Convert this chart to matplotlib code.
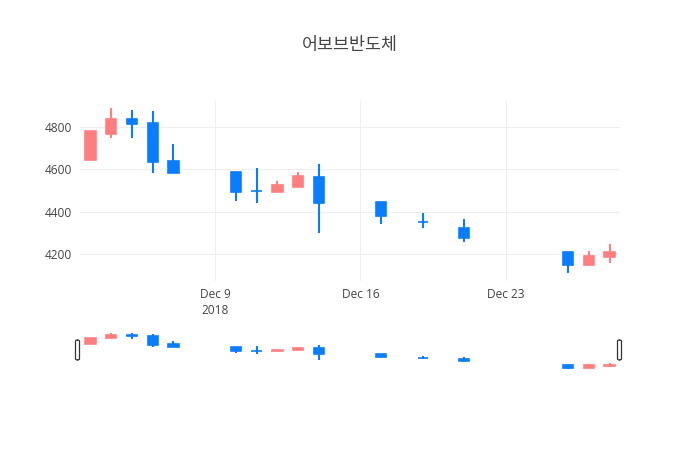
import matplotlib
matplotlib.use('Agg')
import matplotlib.pyplot as plt
import matplotlib.dates as mdates
from matplotlib.patches import FancyBboxPatch
import numpy as np
import pandas as pd

plt.rcParams['font.family'] = ['Open Sans', 'Noto Sans CJK KR', 'DejaVu Sans']

# 데이터
dates = ['2018-12-03', '2018-12-04', '2018-12-05', '2018-12-06', '2018-12-07',
         '2018-12-10', '2018-12-11', '2018-12-12', '2018-12-13', '2018-12-14',
         '2018-12-17', '2018-12-19', '2018-12-21', '2018-12-26', '2018-12-27',
         '2018-12-28']
opens = [4645, 4770, 4840, 4820, 4640, 4590, 4500, 4495, 4515, 4565,
         4445, 4353, 4320, 4210, 4145, 4185]
highs = [4780, 4890, 4880, 4875, 4720, 4590, 4605, 4545, 4590, 4625,
         4445, 4395, 4365, 4210, 4215, 4245]
lows = [4645, 4750, 4750, 4585, 4585, 4450, 4440, 4495, 4515, 4300,
        4340, 4320, 4255, 4110, 4145, 4155]
closes = [4780, 4840, 4815, 4635, 4585, 4495, 4497, 4525, 4570, 4440,
          4380, 4350, 4275, 4145, 4190, 4210]
title = '어보브반도체'

UP = '#FF7F7F'
DOWN = '#0A7DFF'
GRID = '#eeeeee'
TXT = '#444444'


def draw_candles(ax, x, o, h, l, c):
    for xi, oi, hi, li, ci in zip(x, o, h, l, c):
        col = UP if ci >= oi else DOWN
        top, bot = max(oi, ci), min(oi, ci)
        ax.vlines(xi, top, hi, color=col, lw=1.5, zorder=3)
        ax.vlines(xi, li, bot, color=col, lw=1.5, zorder=3)
        ax.bar(xi, top - bot, bottom=bot, width=0.5, color=col,
               edgecolor=col, linewidth=1.2, zorder=3)


x = mdates.date2num(pd.to_datetime(dates))
x0 = mdates.date2num(pd.Timestamp('2018-12-02 12:00'))
x1 = mdates.date2num(pd.Timestamp('2018-12-28 12:00'))
ylo, yhi = 4071, 4929

fig = plt.figure(figsize=(7, 4.5), dpi=100)
fig.patch.set_facecolor('white')

# 메인 차트
ax = fig.add_axes([80 / 700, 1 - 281 / 450, 540 / 700, 181 / 450])
draw_candles(ax, x, opens, highs, lows, closes)
ax.set_xlim(x0, x1)
ax.set_ylim(ylo, yhi)
ax.set_yticks([4200, 4400, 4600, 4800])
tick_days = ['2018-12-09', '2018-12-16', '2018-12-23']
ax.set_xticks(mdates.date2num(pd.to_datetime(tick_days)))
ax.set_xticklabels(['Dec 9\n2018', 'Dec 16', 'Dec 23'])
ax.grid(True, color=GRID, lw=0.8, zorder=0)
ax.set_axisbelow(True)
for s in ax.spines.values():
    s.set_visible(False)
ax.tick_params(length=0, colors=TXT, labelsize=8.6, pad=5)
ax.tick_params(axis='y', pad=6)
for lab in ax.get_xticklabels():
    lab.set_linespacing(1.3)

# 레인지 슬라이더
sl = fig.add_axes([80 / 700, 1 - 371 / 450, 540 / 700, 40 / 450])
draw_candles(sl, x, opens, highs, lows, closes)
sl.set_xlim(x0, x1)
sl.set_ylim(ylo, yhi)
sl.set_xticks([])
sl.set_yticks([])
for s in sl.spines.values():
    s.set_visible(False)

# 슬라이더 손잡이
for px in [78, 620]:
    handle = FancyBboxPatch(((px - 2.5) / 700, 1 - 360 / 450), 4 / 700, 20 / 450,
                            boxstyle='round,pad=0,rounding_size=0.003',
                            transform=fig.transFigure, facecolor='white',
                            edgecolor='#333333', lw=0.9, zorder=5)
    fig.patches.append(handle)

fig.text(0.5, 1 - 45 / 450, title, ha='center', va='center', fontsize=12.5,
         color=TXT, family=['Noto Sans CJK KR', 'DejaVu Sans'])

fig.savefig('out.png', dpi=100, facecolor='white')
